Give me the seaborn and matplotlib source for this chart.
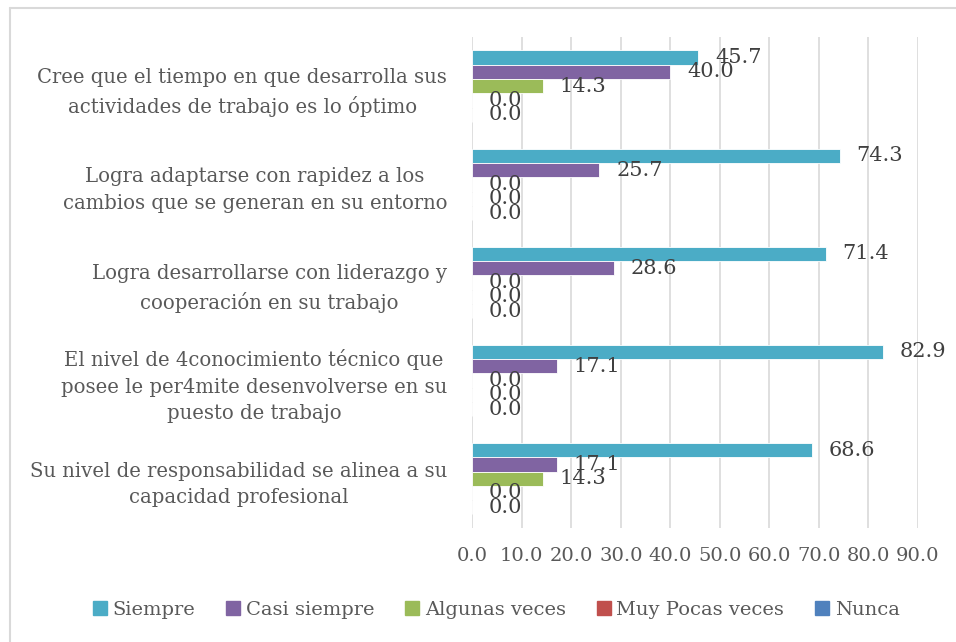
import pandas as pd
import numpy as np
import matplotlib.pyplot as plt
import seaborn as sns
from matplotlib.lines import Line2D

# Data
categories = [
    "Cree que el tiempo en que desarrolla sus\nactividades de trabajo es lo óptimo",
    "Logra adaptarse con rapidez a los\ncambios que se generan en su entorno",
    "Logra desarrollarse con liderazgo y\ncooperación en su trabajo",
    "El nivel de 4conocimiento técnico que\nposee le per4mite desenvolverse en su\npuesto de trabajo",
    "Su nivel de responsabilidad se alinea a su\ncapacidad profesional",
]
series = ["Siempre", "Casi siempre", "Algunas veces", "Muy Pocas veces", "Nunca"]
siempre = [45.7, 74.3, 71.4, 82.9, 68.6]
casi_siempre = [40.0, 25.7, 28.6, 17.1, 17.1]
algunas_veces = [14.3, 0.0, 0.0, 0.0, 14.3]
muy_pocas_veces = [0.0, 0.0, 0.0, 0.0, 0.0]
nunca = [0.0, 0.0, 0.0, 0.0, 0.0]
colors = ["#4BACC6", "#8064A2", "#9BBB59", "#C0504D", "#4F81BD"]
xticks = [0, 10, 20, 30, 40, 50, 60, 70, 80, 90]

# Long-form table
values = [siempre, casi_siempre, algunas_veces, muy_pocas_veces, nunca]
rows = []
for s, vals in zip(series, values):
    for c, v in zip(categories, vals):
        rows.append({"Pregunta": c, "Respuesta": s, "Porcentaje": v})
df = pd.DataFrame(rows)

sns.set_style("white")
plt.rcParams['font.family'] = ['DejaVu Serif']

fig = plt.figure(figsize=(9.56, 6.42), dpi=100)
ax = fig.add_axes([0.494, 0.178, 0.466, 0.764])

sns.barplot(data=df, y="Pregunta", x="Porcentaje", hue="Respuesta",
            order=categories, hue_order=series, palette=colors, saturation=1,
            orient="h", width=0.73, edgecolor="white", linewidth=0.6,
            legend=False, ax=ax)

for cont in ax.containers:
    ax.bar_label(cont, fmt="%.1f", padding=12, fontsize=15, color="#404040")

ax.set_xlim(0, 90)
ax.set_xticks(xticks)
ax.set_xticklabels([f"{t:.1f}" for t in xticks], fontsize=14, color="#595959")
ax.set_xlabel("")
ax.set_ylabel("")
ax.tick_params(axis="y", length=0, pad=18)
ax.tick_params(axis="x", length=0, pad=14)
for lab in ax.get_yticklabels():
    lab.set_fontsize(14.1)
    lab.set_color("#595959")
    lab.set_multialignment("center")
    lab.set_linespacing(1.5)

ax.grid(axis="x", color="#D9D9D9", linewidth=1.2)
ax.set_axisbelow(True)
for sp in ax.spines.values():
    sp.set_visible(False)

handles = [Line2D([], [], marker="s", linestyle="", markersize=10,
                  markerfacecolor=c, markeredgecolor=c) for c in colors]
fig.legend(handles, series, loc="center", bbox_to_anchor=(0.519, 0.05), ncol=5,
           frameon=False, fontsize=14, labelcolor="#595959",
           handletextpad=0.3, columnspacing=1.6, handlelength=0.7)

# outer chart frame
fig.add_artist(Line2D([10/956, 10/956], [0, 1 - 8/642], transform=fig.transFigure,
                      color="#D9D9D9", linewidth=1.5))
fig.add_artist(Line2D([10/956, 1], [1 - 8/642, 1 - 8/642], transform=fig.transFigure,
                      color="#D9D9D9", linewidth=1.5))

fig.savefig("out.png", dpi=100)
